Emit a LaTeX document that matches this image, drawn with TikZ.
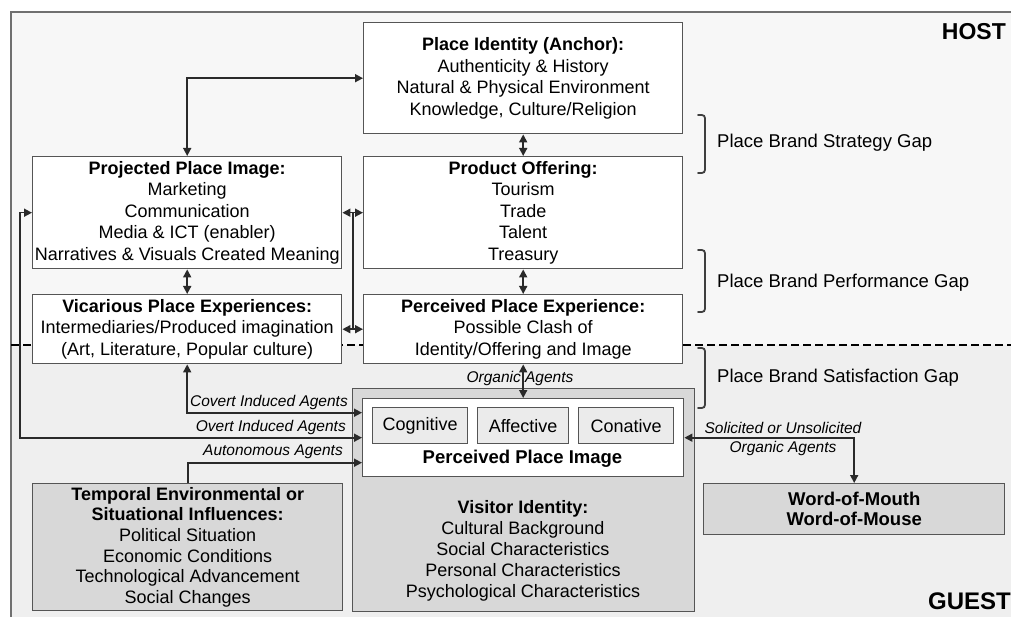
\documentclass[tikz,border=0pt]{standalone}
\usepackage{fontspec}
\setmainfont{Liberation Sans}
\usetikzlibrary{arrows.meta,calc}
\definecolor{bgup}{HTML}{F7F7F7}
\definecolor{bglow}{HTML}{EFEFEF}
\definecolor{graybox}{HTML}{D8D8D8}
\definecolor{subbox}{HTML}{EBEBEB}
\definecolor{ink}{HTML}{2A2A2A}
\definecolor{frame}{HTML}{707070}
\tikzset{
  >={Triangle[length=8pt,width=8pt]},
  box/.style={draw=ink!80, line width=1.4pt, fill=white, inner sep=0pt, align=center,
    anchor=north west, font=\fontsize{18}{21.5}\selectfont},
  graybx/.style={box, fill=graybox},
  subbx/.style={box, fill=subbox, line width=1.2pt},
  conn/.style={draw=ink, line width=1.6pt},
  agent/.style={font=\fontsize{15.5}{17}\itshape, inner sep=0pt},
  gaplbl/.style={font=\fontsize{18.5}{20}\selectfont, anchor=west, inner sep=0pt},
  bracket/.style={draw=ink!90, line width=1.8pt, line cap=round},
  txt/.style={inner sep=0pt, align=center, font=\fontsize{18}{21}\selectfont},
  corner/.style={font=\fontsize{23}{25}\bfseries, inner sep=0pt}
}
\begin{document}
\begin{tikzpicture}[x=1pt,y=-1pt]
\useasboundingbox (0,0) rectangle (1011,617);
\clip (0,0) rectangle (1011,617);
% backgrounds
\fill[white] (0,0) rectangle (1011,617);
\fill[bgup] (11,12) rectangle (1030,345);
\fill[bglow] (11,345) rectangle (1030,640);
\draw[frame, line width=2pt] (11,640) -- (11,12) -- (1030,12);
% dashed divider
\draw[black, line width=2.6pt, dash pattern=on 8pt off 4pt] (11,345) -- (1011,345);
% gap brackets
\draw[bracket] (698,115) .. controls (705,115) .. (705,122) -- (705,166) .. controls (705,173) .. (698,173);
\draw[bracket] (698,250) .. controls (705,250) .. (705,257) -- (705,305) .. controls (705,312) .. (698,312);
\draw[bracket] (698,348) .. controls (705,348) .. (705,355) -- (705,401) .. controls (705,408) .. (698,408);
\node[gaplbl] (g1) at (717,143) {Place Brand Strategy Gap};
\node[gaplbl] (g2) at (717,283) {Place Brand Performance Gap};
\node[gaplbl] (g3) at (717,378) {Place Brand Satisfaction Gap};
% corner labels
\node[corner, anchor=east] (host) at (1006,32) {HOST};
\node[corner, anchor=east, font=\fontsize{24}{26}\bfseries] (guest) at (1011,601) {GUEST};
% boxes
\node[box, minimum width=319pt, minimum height=111pt] (pid) at (363,22)
  {\textbf{Place Identity (Anchor):}\\Authenticity \& History\\Natural \& Physical Environment\\Knowledge, Culture/Religion};
\node[box, minimum width=319pt, minimum height=112pt] (po) at (363,156)
  {\textbf{Product Offering:}\\Tourism\\Trade\\Talent\\Treasury};
\node[box, minimum width=319pt, minimum height=69pt] (ppe) at (363,294)
  {\textbf{Perceived Place Experience:}\\Possible Clash of\\Identity/Offering and Image};
\node[box, minimum width=309pt, minimum height=112pt] (ppi) at (32,156)
  {\textbf{Projected Place Image:}\\Marketing\\Communication\\Media \& ICT (enabler)\\Narratives \& Visuals Created Meaning};
\node[box, minimum width=309pt, minimum height=69pt] (vpe) at (32,294)
  {\textbf{Vicarious Place Experiences:}\\Intermediaries/Produced imagination\\(Art, Literature, Popular culture)};
\node[graybx, minimum width=342pt, minimum height=223pt] (vis) at (352,388) {};
\node[box, minimum width=321pt, minimum height=78pt] (img) at (362,398) {};
\node[subbx, minimum width=95pt, minimum height=36pt] (cog) at (372,407) {Cognitive};
\node[subbx, minimum width=91pt, minimum height=36pt] (aff) at (477,407) {Affective};
\node[subbx, minimum width=95pt, minimum height=36pt] (con) at (578,407) {Conative};
\node[txt, font=\fontsize{18.5}{21}\bfseries] (imglbl) at (522.5,459) {Perceived Place Image};
\node[txt] (vistxt) at (523,551)
  {\textbf{Visitor Identity:}\\Cultural Background\\Social Characteristics\\Personal Characteristics\\Psychological Characteristics};
\node[graybx, minimum width=310pt, minimum height=127pt, font=\fontsize{18}{20.6}\selectfont] (temp) at (32,483)
  {\textbf{Temporal Environmental or}\\\textbf{Situational Influences:}\\Political Situation\\Economic Conditions\\Technological Advancement\\Social Changes};
\node[graybx, minimum width=301pt, minimum height=51pt, font=\fontsize{18.5}{20}\bfseries] (wom) at (703,483)
  {Word-of-Mouth\\Word-of-Mouse};
% connectors
\draw[conn,<->] (ppi.north) |- (pid.west);
\draw[conn,<->] (pid.south) -- (po.north);
\draw[conn,<->] (po.south) -- (ppe.north);
\draw[conn,<->] (ppi.south) -- (vpe.north);
\draw[conn,<->] (ppi.east) -- (po.west);
\draw[conn,<->] (vpe.east) -- (ppe.west);
\coordinate (h1) at ($(ppi.east)!0.5!(po.west)$);
\coordinate (h2) at ($(vpe.east)!0.5!(ppe.west)$);
\draw[conn] (h1) -- (h2);
\draw[conn,<->] (ppi.west) -- ++(-12,0) |- (img.west);
\draw[conn,<->] (vpe.south) |- ($(img.west)+(0,-25)$);
\draw[conn,->] (temp.north) |- ($(img.west)+(0,25)$);
\draw[conn,<->] (ppe.south) -- (img.north);
\draw[conn,<->] (img.east) -| (wom.north);
% agent labels
\node[agent, anchor=east] (covl) at (348,402) {Covert Induced Agents};
\node[agent, anchor=east] (ovl) at (346,427) {Overt Induced Agents};
\node[agent, anchor=east] (autl) at (343,452) {Autonomous Agents};
\node[agent] (orgl) at (520,378) {Organic Agents};
\node[agent] (soll) at (783,428) {Solicited or Unsolicited};
\node[agent] (sol2) at (783,448) {Organic Agents};
\end{tikzpicture}
\end{document}
